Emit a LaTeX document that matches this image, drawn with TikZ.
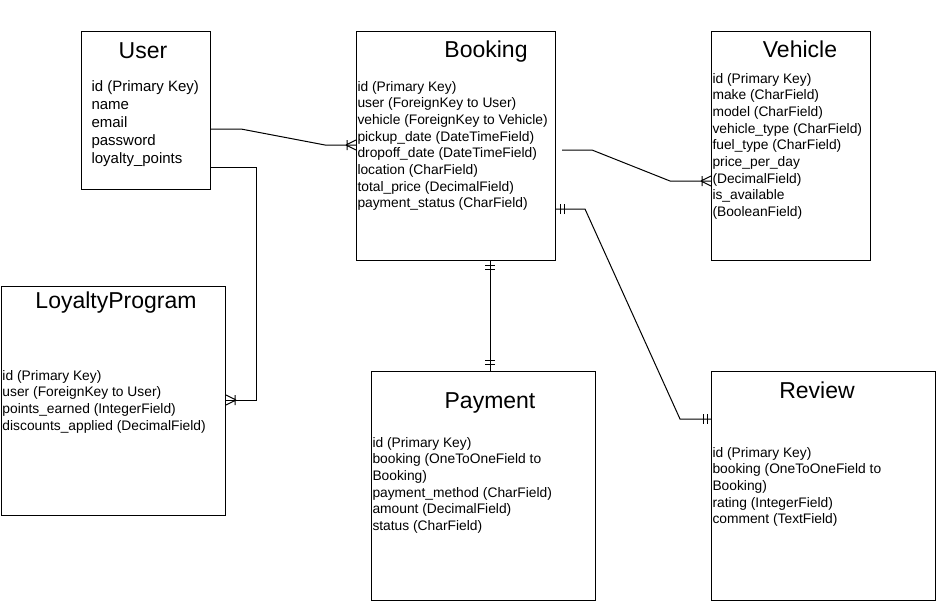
\documentclass[tikz,border=0pt]{standalone}
\usepackage{fontspec}
\setmainfont{Liberation Sans}
\usetikzlibrary{calc}
\begin{document}
\begin{tikzpicture}[x=0.75pt,y=-0.75pt,line width=0.75pt,
  entity/.style={draw,inner sep=0,anchor=north west},
  etitle/.style={font=\fontsize{17.25}{20}\selectfont,anchor=base,inner sep=0},
  fields/.style={anchor=base west,inner sep=0,font=\fontsize{10.35}{12.5}\selectfont},
  bigfields/.style={anchor=base west,inner sep=0,font=\fontsize{11.25}{13.5}\selectfont},
  crow/.pic={\draw (-10,0) -- (0,-5) (-10,0) -- (0,5) (-9,-5) -- (-9,5);},
  onebar/.pic={\draw (-4,-5) -- (-4,5) (-8,-5) -- (-8,5);},
  conn/.style={draw,line width=0.75pt}]
\useasboundingbox (0,0) rectangle (936,601);
\fill[white] (0,0) rectangle (936,601);

% entities
\node[entity,minimum width=129*0.75pt,minimum height=158*0.75pt] (user) at (81,31) {};
\node[entity,minimum width=199*0.75pt,minimum height=229*0.75pt] (booking) at (356,31) {};
\node[entity,minimum width=159*0.75pt,minimum height=229*0.75pt] (vehicle) at (711,31) {};
\node[entity,minimum width=224.5*0.75pt,minimum height=229*0.75pt] (loyalty) at (0.5,286) {};
\node[entity,minimum width=224*0.75pt,minimum height=229*0.75pt] (payment) at (371,371) {};
\node[entity,minimum width=224*0.75pt,minimum height=229*0.75pt] (review) at (711,371) {};

% titles
\node[etitle] (usert) at (143,58) {User};
\node[etitle] (bookingt) at (486,57) {Booking};
\node[etitle] (vehiclet) at (800,57) {Vehicle};
\node[etitle] (loyaltyt) at (116,308) {LoyaltyProgram};
\node[etitle] (paymentt) at (490,408) {Payment};
\node[etitle] (reviewt) at (817,398) {Review};

% fields
\node[bigfields] (userf) at (91,91) {\begin{tabular}[t]{@{}l@{}}id (Primary Key)\\name\\email\\password\\loyalty\_points\end{tabular}};
\node[fields] (bookingf) at (357,91) {\begin{tabular}[t]{@{}l@{}}id (Primary Key)\\user (ForeignKey to User)\\vehicle (ForeignKey to Vehicle)\\pickup\_date (DateTimeField)\\dropoff\_date (DateTimeField)\\location (CharField)\\total\_price (DecimalField)\\payment\_status (CharField)\end{tabular}};
\node[fields] (vehiclef) at (712,83) {\begin{tabular}[t]{@{}l@{}}id (Primary Key)\\make (CharField)\\model (CharField)\\vehicle\_type (CharField)\\fuel\_type (CharField)\\price\_per\_day\\(DecimalField)\\is\_available\\(BooleanField)\end{tabular}};
\node[fields] (loyaltyf) at (2,380) {\begin{tabular}[t]{@{}l@{}}id (Primary Key)\\user (ForeignKey to User)\\points\_earned (IntegerField)\\discounts\_applied (DecimalField)\end{tabular}};
\node[fields] (paymentf) at (372,447) {\begin{tabular}[t]{@{}l@{}}id (Primary Key)\\booking (OneToOneField to\\Booking)\\payment\_method (CharField)\\amount (DecimalField)\\status (CharField)\end{tabular}};
\node[fields] (reviewf) at (712,457) {\begin{tabular}[t]{@{}l@{}}id (Primary Key)\\booking (OneToOneField to\\Booking)\\rating (IntegerField)\\comment (TextField)\end{tabular}};

% connectors
% User -> Booking (many)
\coordinate (ub1) at ([shift={(0,98)}]user.north east);
\coordinate (ub2) at ([shift={(0,114)}]booking.north west);
\draw[conn] (ub1) -- ++(30,0) -- ($(ub2)+(-31,0)$) -- (ub2);
\pic[rotate=0] at (ub2) {crow};

% User -> LoyaltyProgram (many)
\coordinate (ul1) at ([shift={(0,136)}]user.north east);
\coordinate (ul2) at ([shift={(0,114)}]loyalty.north east);
\draw[conn] (ul1) -- ++(45,0) |- (ul2);
\pic[rotate=180] at (ul2) {crow};

% Booking -> Vehicle (many)
\coordinate (bv1) at ([shift={(6,119)}]booking.north east);
\coordinate (bv2) at ([shift={(0,150)}]vehicle.north west);
\draw[conn] (bv1) -- ++(30,0) -- ($(bv2)+(-41,0)$) -- (bv2);
\pic[rotate=0] at (bv2) {crow};

% Booking -> Payment (one to one)
\coordinate (bp1) at ([shift={(134,0)}]booking.south west);
\coordinate (bp2) at ([shift={(119,0)}]payment.north west);
\draw[conn] (bp1) -- (bp2);
\pic[rotate=90] at (bp1) {onebar};
\pic[rotate=-90] at ($(bp2)+(0,-3)$) {onebar};

% Booking -> Review (one to one)
\coordinate (br1) at ([shift={(0,178)}]booking.north east);
\coordinate (br2) at ([shift={(0,48)}]review.north west);
\draw[conn] (br1) -- ++(29,0) -- ($(br2)+(-31,0)$) -- (br2);
\pic[rotate=180] at (br1) {onebar};
\pic[rotate=0] at (br2) {onebar};
\end{tikzpicture}
\end{document}
